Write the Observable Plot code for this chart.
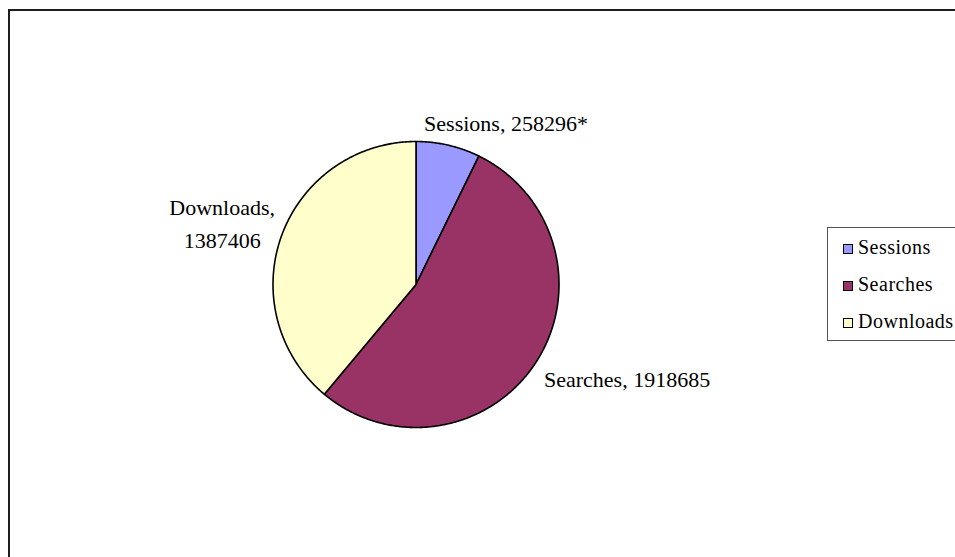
<!DOCTYPE html>
<html>
<head>
<meta charset="utf-8">
<script src="https://cdn.jsdelivr.net/npm/d3@7"></script>
<script src="https://cdn.jsdelivr.net/npm/@observablehq/plot@0.6"></script>
<style>
  html, body { margin: 0; padding: 0; background: #fff; }
  body { width: 955px; height: 557px; overflow: hidden; position: relative; }
  #frame { position: absolute; left: 8px; top: 9px; width: 1100px; height: 700px; border: 2px solid #1e1e1e; box-sizing: border-box; pointer-events: none; }
  #chart { position: absolute; left: 0; top: 0; }
  #legend { position: absolute; left: 827px; top: 227px; width: 200px; height: 114px; border: 1px solid #555; box-sizing: border-box; padding-top: 1px; background: #fff; }
  .row { height: 37px; line-height: 37px; font-family: "Liberation Serif", "DejaVu Serif", serif; font-size: 20px; letter-spacing: 0.5px; color: #000; white-space: nowrap; }
  .sw { display: inline-block; width: 8px; height: 8px; border: 1.5px solid #000; margin-left: 15px; margin-right: 5px; vertical-align: 0px; }
</style>
</head>
<body>
<div id="chart"></div>
<div id="frame"></div>
<div id="legend"></div>
<script>
// ---- data ----
const categories = ["Sessions", "Searches", "Downloads"];
const values = [258296, 1918685, 1387406];
const labelTexts = ["Sessions, 258296*", "Searches, 1918685", "Downloads,\n1387406"];
const colors = ["#9999FF", "#993366", "#FFFFCC"];

// ---- layout ----
const W = 955, H = 557;
const cx = 415.5, cy = 284, R = 143;

const rows = categories.map((c, i) => ({name: c, value: values[i], label: labelTexts[i]}));
const arcs = d3.pie().sort(null).value(d => d.value)(rows);

// polygon outline of each slice (unit radius), built from pie angles
const poly = [];
for (const a of arcs) {
  const n = Math.max(2, Math.ceil((a.endAngle - a.startAngle) / (Math.PI / 360)));
  poly.push({name: a.data.name, x: 0, y: 0});
  for (let k = 0; k <= n; k++) {
    const t = a.startAngle + (a.endAngle - a.startAngle) * k / n;
    poly.push({name: a.data.name, x: Math.sin(t), y: Math.cos(t)});
  }
  poly.push({name: a.data.name, x: 0, y: 0});
}

const mid = a => (a.startAngle + a.endAngle) / 2;
const labelPts = arcs.map((a, i) => {
  const k = [1.15, 1.1, 1.1][i];
  return {name: a.data.name, text: a.data.label, x: Math.sin(mid(a)) * k, y: Math.cos(mid(a)) * k};
});

const textCommon = {fontFamily: "Liberation Serif, Times New Roman, serif", fontSize: 22, fill: "#000", lineHeight: 1.5};

const chart = Plot.plot({
  width: W, height: H,
  margin: 0,
  x: {domain: [-cx / R, (W - cx) / R], axis: null},
  y: {domain: [(cy - H) / R, cy / R], axis: null},
  color: {domain: categories, range: colors},
  style: {background: "transparent", overflow: "visible"},
  marks: [
    Plot.line(poly, {x: "x", y: "y", z: "name", fill: "name", stroke: "#000", strokeWidth: 1.6, strokeLinejoin: "round", curve: "linear"}),
    Plot.text(labelPts.filter(d => d.name === "Sessions"), {x: "x", y: "y", text: "text", textAnchor: "start", dx: -29, dy: -4, ...textCommon}),
    Plot.text(labelPts.filter(d => d.name === "Searches"), {x: "x", y: "y", text: "text", textAnchor: "start", dx: -4, dy: 6, ...textCommon}),
    Plot.text(labelPts.filter(d => d.name === "Downloads"), {x: "x", y: "y", text: "text", textAnchor: "middle", dx: -46, dy: -10, ...textCommon})
  ]
});
document.getElementById("chart").appendChild(chart);

// ---- legend ----
const leg = document.getElementById("legend");
categories.forEach((c, i) => {
  const r = document.createElement("div");
  r.className = "row";
  const s = document.createElement("span");
  s.className = "sw";
  s.style.background = colors[i];
  r.appendChild(s);
  r.appendChild(document.createTextNode(c));
  leg.appendChild(r);
});
</script>
</body>
</html>
